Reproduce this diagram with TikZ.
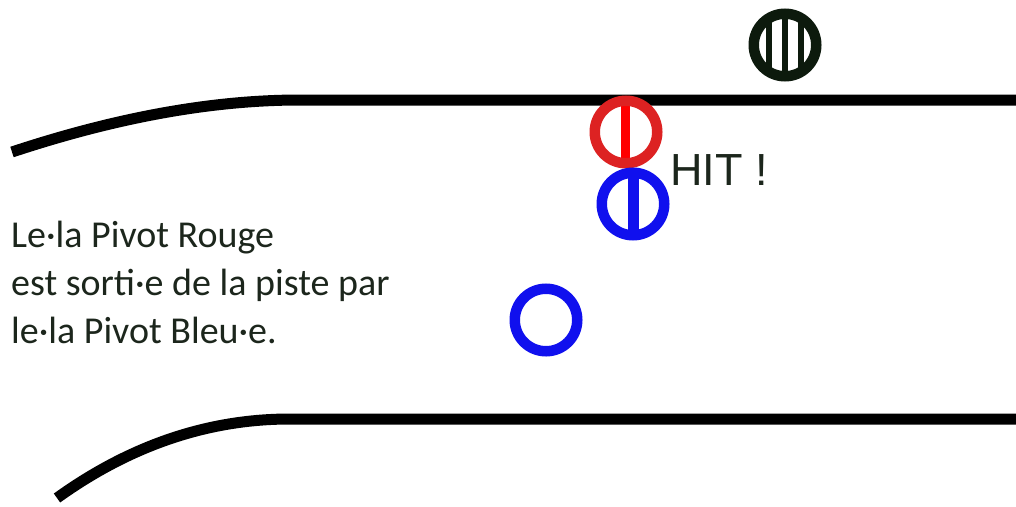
\documentclass[tikz,border=0pt]{standalone}
\usepackage{fontspec}
\setmainfont{Carlito}
\newfontfamily\hitfont{Liberation Sans}
\definecolor{ringred}{HTML}{DD2222}
\definecolor{barred}{HTML}{FF0000}
\definecolor{pblue}{HTML}{1010EE}
\definecolor{pdark}{HTML}{0D1A0D}
\definecolor{txt}{HTML}{1C261C}
\begin{document}
\begin{tikzpicture}[x=1pt,y=-1pt,
  track/.style={line width=11pt, black},
  ring/.style={circle, draw, line width=10.5pt, minimum size=62.5pt, inner sep=0pt, outer sep=0pt},
  stripe/.style={line width=#1, line cap=butt},
  lbl/.style={anchor=base west, inner sep=0pt, text=txt, font=\fontsize{38}{48}\selectfont}]
\useasboundingbox (0,0) rectangle (1016,506);
% track
\coordinate (ts) at (12,152);
\coordinate (te) at (1020,100);
\coordinate (bs) at (57,498);
\coordinate (be) at (1020,419);
\draw[track] (ts) .. controls (116.7,117.3) and (212.7,100) .. (300,100) -- (te);
\draw[track] (bs) .. controls (130.3,445.3) and (208,419) .. (290,419) -- (be);
% centres
\coordinate (kc) at (785,45);
\coordinate (rc) at (626,132);
\coordinate (bc) at (633,204);
% stripes
\draw[stripe=6pt, pdark] ([shift={(-16,-27)}]kc) -- ([shift={(-16,27)}]kc);
\draw[stripe=6pt, pdark] ([shift={(0,-27)}]kc) -- ([shift={(0,27)}]kc);
\draw[stripe=6pt, pdark] ([shift={(16,-27)}]kc) -- ([shift={(16,27)}]kc);
\draw[stripe=9pt, barred] ([shift={(-1,-28)}]rc) -- ([shift={(-1,28)}]rc);
\draw[stripe=11pt, pblue] ([shift={(0,-28)}]bc) -- ([shift={(0,28)}]bc);
% rings
\node[ring, draw=pdark] (black) at (kc) {};
\node[ring, draw=ringred] (red) at (rc) {};
\node[ring, draw=pblue] (blueB) at (bc) {};
\node[ring, draw=pblue] (blue) at (546,320) {};
% labels
\node[anchor=base west, inner sep=0pt, text=txt, font=\hitfont\fontsize{45}{54}\selectfont] (hit) at (670,185) {HIT !};
\node[lbl] (t1) at (11,247) {Le·la Pivot Rouge};
\node[lbl] (t2) at (11,295) {est sorti·e de la piste par};
\node[lbl] (t3) at (11,343) {le·la Pivot Bleu·e.};
\end{tikzpicture}
\end{document}
